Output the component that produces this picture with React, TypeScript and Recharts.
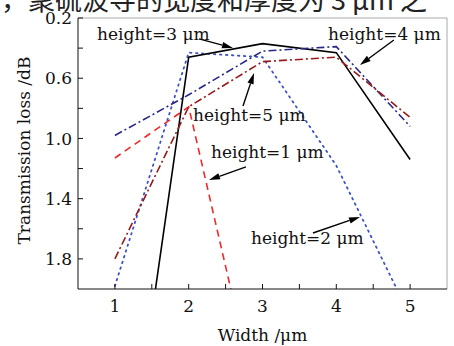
import {
  Label,
  Line,
  LineChart,
  ReferenceDot,
  ReferenceLine,
  XAxis,
  YAxis,
} from "recharts";

const widths = [1, 2, 3, 4, 5];
const height1 = [1.13, 0.79, 2.91, null, null];
const height2 = [1.98, 0.43, 0.46, 1.18, 2.18];
const height3 = [3.88, 0.46, 0.37, 0.43, 1.14];
const height4 = [0.98, 0.71, 0.42, 0.39, 0.92];
const height5 = [1.8, 0.79, 0.49, 0.46, 0.86];

const xTicks = [1, 1.5, 2, 2.5, 3, 3.5, 4, 4.5, 5];
const yTicks = [0.2, 0.4, 0.6, 0.8, 1.0, 1.2, 1.4, 1.6, 1.8];
const xLabelled = [1, 2, 3, 4, 5];
const yLabelled = [0.2, 0.6, 1.0, 1.4, 1.8];

const data = widths.map((w, i) => ({
  width: w,
  h1: height1[i],
  h2: height2[i],
  h3: height3[i],
  h4: height4[i],
  h5: height5[i],
}));

// callouts, in data units
const notes = [
  { text: "height=3 μm", x: 0.757, y: 0.346, from: [2.14, 0.339], to: [2.6, 0.399] },
  { text: "height=4 μm", x: 3.888, y: 0.346, from: [4.78, 0.346], to: [4.32, 0.512] },
  { text: "height=5 μm", x: 2.058, y: 0.884, from: [2.736, 0.784], to: [2.885, 0.565] },
  { text: "height=1 μm", x: 2.302, y: 1.13, from: [2.776, 1.189], to: [2.275, 1.276] },
  { text: "height=2 μm", x: 2.844, y: 1.7, from: [3.684, 1.628], to: [4.321, 1.521] },
];

const font = "'DejaVu Serif', serif";

function Arrow(props: any) {
  const { x1, y1, x2, y2 } = props;
  const a = Math.atan2(y2 - y1, x2 - x1);
  const len = 11;
  const half = 3.2;
  const bx = x2 - len * Math.cos(a);
  const by = y2 - len * Math.sin(a);
  const px = -Math.sin(a) * half;
  const py = Math.cos(a) * half;
  return (
    <g>
      <line x1={x1} y1={y1} x2={bx} y2={by} stroke="#000" strokeWidth={1.4} />
      <polygon points={`${x2},${y2} ${bx + px},${by + py} ${bx - px},${by - py}`} fill="#000" />
    </g>
  );
}

function XTick(props: any) {
  const { x, y, payload } = props;
  if (!xLabelled.includes(payload.value)) return null;
  return (
    <text x={x} y={y} textAnchor="middle" dy="0.71em" fontFamily={font} fontSize={17} fill="#111">
      {payload.value}
    </text>
  );
}

function YTick(props: any) {
  const { x, y, payload } = props;
  if (!yLabelled.some((v) => Math.abs(v - payload.value) < 1e-6)) return null;
  return (
    <text x={x} y={y} textAnchor="end" dy="0.36em" fontFamily={font} fontSize={17} fill="#111">
      {payload.value.toFixed(1)}
    </text>
  );
}

function YTitle(props: any) {
  const { viewBox } = props;
  const cx = viewBox.x + 24;
  const cy = viewBox.y + viewBox.height / 2 - 3;
  return (
    <text
      x={cx}
      y={cy}
      transform={`rotate(-90, ${cx}, ${cy})`}
      textAnchor="middle"
      dominantBaseline="central"
      fontFamily={font}
      fontSize={17}
      fill="#111"
    >
      Transmission loss /dB
    </text>
  );
}

function XTitle(props: any) {
  const { viewBox } = props;
  return (
    <text
      x={viewBox.x + viewBox.width / 2}
      y={viewBox.y + 52}
      textAnchor="middle"
      fontFamily={font}
      fontSize={17}
      fill="#111"
    >
      Width /μm
    </text>
  );
}

export default function App() {
  return (
    <div style={{ position: "fixed", left: 0, top: 0, width: 454, height: 346, background: "#fff", overflow: "hidden" }}>
      <div
        style={{
          position: "absolute",
          left: -26,
          top: -15,
          fontSize: 27,
          lineHeight: "27px",
          whiteSpace: "nowrap",
          fontFamily: "'Noto Sans CJK SC', 'DejaVu Serif', serif",
          color: "#222",
        }}
      >
        中，聚硫波导的宽度和厚度为 3 μm 之
      </div>
      <LineChart
        width={454}
        height={346}
        data={data}
        margin={{ top: 18, right: 7, bottom: 0, left: 0 }}
        style={{ position: "absolute", left: 0, top: 0 }}
      >
        <XAxis
          dataKey="width"
          type="number"
          domain={[0.5, 5.5]}
          ticks={xTicks}
          allowDataOverflow
          height={57}
          stroke="#111"
          tickSize={-5}
          tickMargin={16}
          tick={<XTick />}
          interval={0}
        >
          <Label content={<XTitle />} />
        </XAxis>
        <YAxis
          type="number"
          reversed
          domain={[0.2, 2.0]}
          ticks={yTicks}
          allowDataOverflow
          width={78}
          stroke="#111"
          tickSize={-5}
          tickMargin={11}
          tick={<YTick />}
          interval={0}
        >
          <Label content={<YTitle />} />
        </YAxis>
        <ReferenceLine y={0.2} stroke="#aaa" strokeWidth={1} />
        <ReferenceLine x={5.5} stroke="#aaa" strokeWidth={1} />

        <Line dataKey="h1" stroke="#ee2a2a" strokeWidth={1.6} strokeDasharray="7 5" dot={false} isAnimationActive={false} connectNulls={false} />
        <Line dataKey="h2" stroke="#4050cc" strokeWidth={1.8} strokeDasharray="1.5 4.5" strokeLinecap="round" dot={false} isAnimationActive={false} />
        <Line dataKey="h3" stroke="#000" strokeWidth={1.6} dot={false} isAnimationActive={false} />
        <Line dataKey="h4" stroke="#28288a" strokeWidth={1.6} strokeDasharray="8 3 2 3" dot={false} isAnimationActive={false} />
        <Line dataKey="h5" stroke="#9a1a1a" strokeWidth={1.6} strokeDasharray="8 3 2 3" dot={false} isAnimationActive={false} />

        {notes.map((n) => (
          <ReferenceLine
            key={`a-${n.text}`}
            segment={[
              { x: n.from[0], y: n.from[1] },
              { x: n.to[0], y: n.to[1] },
            ]}
            ifOverflow="visible"
            shape={(p: any) => <Arrow {...p} />}
          />
        ))}
        {notes.map((n) => (
          <ReferenceDot
            key={`t-${n.text}`}
            x={n.x}
            y={n.y}
            r={0}
            ifOverflow="visible"
            shape={(p: any) => (
              <text x={p.cx} y={p.cy} fontFamily={font} fontSize={17} fill="#111">
                {n.text}
              </text>
            )}
          />
        ))}
      </LineChart>
    </div>
  );
}
